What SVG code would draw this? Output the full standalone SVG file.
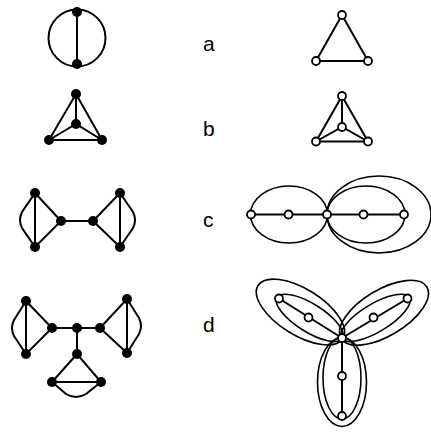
<svg xmlns="http://www.w3.org/2000/svg" width="431" height="436" viewBox="0 0 431 436">
<style>
.e{stroke:#000;stroke-width:2;fill:none;stroke-linecap:round}
.l{stroke:#000;stroke-width:1.6;fill:none}
.f{fill:#000}
.o{fill:#fff;stroke:#000;stroke-width:1.8}
.t{font-family:"Liberation Sans",Arial,sans-serif;font-size:21px;fill:#000}
</style>
<rect width="431" height="436" fill="#fff"/>
<g id="labels">
<text class="t" x="203" y="51">a</text>
<text class="t" x="203" y="136">b</text>
<text class="t" x="203" y="227">c</text>
<text class="t" x="203" y="332">d</text>
</g>
<g id="connectors">
<!-- a left -->
<circle class="e" cx="77" cy="38" r="28.5"/>
<line class="e" x1="77" y1="12" x2="77" y2="64"/>
<!-- a right -->
<path class="e" d="M342,15 L316,61 L368,61 Z"/>
<!-- b left -->
<path class="e" d="M76,94 L49,140 L102,140 Z M76,94 L76,124 M49,140 L76,124 L102,140"/>
<!-- b right -->
<path class="e" d="M342,96 L316,141.5 L368,141.5 Z M342,96 L342,127 M316,141.5 L342,127 L368,141.5"/>
<!-- c left -->
<path class="e" d="M35,193 L35,247 M35,193 L61,221 L35,247 M61,221 L93,221 M120,193 L93,221 L120,247 M120,193 L120,247"/>
<path class="e" d="M35,193 L22,212 Q18,220 22,228 L35,247"/>
<path class="e" d="M120,193 L133,212 Q137,220 133,228 L120,247"/>
<!-- c right -->
<line class="e" x1="251" y1="214.5" x2="404" y2="214.5"/>
<ellipse class="l" cx="289" cy="214.5" rx="38.5" ry="28.5"/>
<ellipse class="l" cx="366" cy="214.5" rx="39" ry="28.5"/>
<ellipse class="l" cx="379" cy="214.5" rx="52" ry="38.5"/>
<!-- d left -->
<path class="e" d="M26,301 L26,354 M26,301 L52,328 L26,354 M52,328 L100,328 M127,299 L100,328 L127,353 M127,299 L127,353 M77,328 L77,354 M77,354 L52,382 L101,382 Z"/>
<path class="e" d="M26,301 L14,320 Q10,328 14,336 L26,354"/>
<path class="e" d="M127,299 L139,318 Q143,326 139,334 L127,353"/>
<path class="e" d="M52,382 L66,394 Q76,400 86,394 L101,382"/>
<!-- d right -->
<path class="e" d="M342,338 L279,298.5 M342,338 L407.5,298.5 M342,338 L342,416"/>
<g transform="translate(342,338) rotate(212)">
<ellipse class="l" cx="38" cy="0" rx="38.5" ry="14"/>
<ellipse class="l" cx="49" cy="0" rx="50" ry="23"/>
</g>
<g transform="translate(342,338) rotate(-31)">
<ellipse class="l" cx="39" cy="0" rx="39.5" ry="14"/>
<ellipse class="l" cx="49" cy="0" rx="50" ry="23"/>
</g>
<g transform="translate(342,338) rotate(90)">
<ellipse class="l" cx="40" cy="0" rx="41" ry="19"/>
<ellipse class="l" cx="44" cy="0" rx="44.5" ry="24.5"/>
</g>
</g>
<g id="n-a-left">
<circle class="f" cx="77" cy="12" r="5"/>
<circle class="f" cx="77" cy="64" r="5"/>
</g>
<g id="n-a-right">
<circle class="o" cx="342" cy="15" r="4"/>
<circle class="o" cx="316" cy="61" r="4"/>
<circle class="o" cx="368" cy="61" r="4"/>
</g>
<g id="n-b-left">
<circle class="f" cx="76" cy="94" r="5"/>
<circle class="f" cx="76" cy="124" r="5"/>
<circle class="f" cx="49" cy="140" r="5"/>
<circle class="f" cx="102" cy="140" r="5"/>
</g>
<g id="n-b-right">
<circle class="o" cx="342" cy="96" r="4"/>
<circle class="o" cx="342" cy="127" r="4"/>
<circle class="o" cx="316" cy="141.5" r="4"/>
<circle class="o" cx="368" cy="141.5" r="4"/>
</g>
<g id="n-c-left">
<circle class="f" cx="35" cy="193" r="5"/>
<circle class="f" cx="35" cy="247" r="5"/>
<circle class="f" cx="61" cy="221" r="5"/>
<circle class="f" cx="93" cy="221" r="5"/>
<circle class="f" cx="120" cy="193" r="5"/>
<circle class="f" cx="120" cy="247" r="5"/>
</g>
<g id="n-c-right">
<circle class="o" cx="251" cy="214.5" r="4"/>
<circle class="o" cx="288.5" cy="214.5" r="4"/>
<circle class="o" cx="327" cy="214.5" r="4"/>
<circle class="o" cx="363.5" cy="214.5" r="4"/>
<circle class="o" cx="404" cy="214.5" r="4"/>
</g>
<g id="n-d-left">
<circle class="f" cx="26" cy="301" r="5"/>
<circle class="f" cx="26" cy="354" r="5"/>
<circle class="f" cx="52" cy="328" r="5"/>
<circle class="f" cx="77" cy="328" r="5"/>
<circle class="f" cx="100" cy="328" r="5"/>
<circle class="f" cx="127" cy="299" r="5"/>
<circle class="f" cx="127" cy="353" r="5"/>
<circle class="f" cx="77" cy="354" r="5"/>
<circle class="f" cx="52" cy="382" r="5"/>
<circle class="f" cx="101" cy="382" r="5"/>
</g>
<g id="n-d-right">
<circle class="o" cx="342" cy="338" r="4"/>
<circle class="o" cx="308.5" cy="317.5" r="4"/>
<circle class="o" cx="279" cy="298.5" r="4"/>
<circle class="o" cx="373.5" cy="317.5" r="4"/>
<circle class="o" cx="407.5" cy="298.5" r="4"/>
<circle class="o" cx="342" cy="376" r="4"/>
<circle class="o" cx="342" cy="416" r="4"/>
</g>
</svg>
